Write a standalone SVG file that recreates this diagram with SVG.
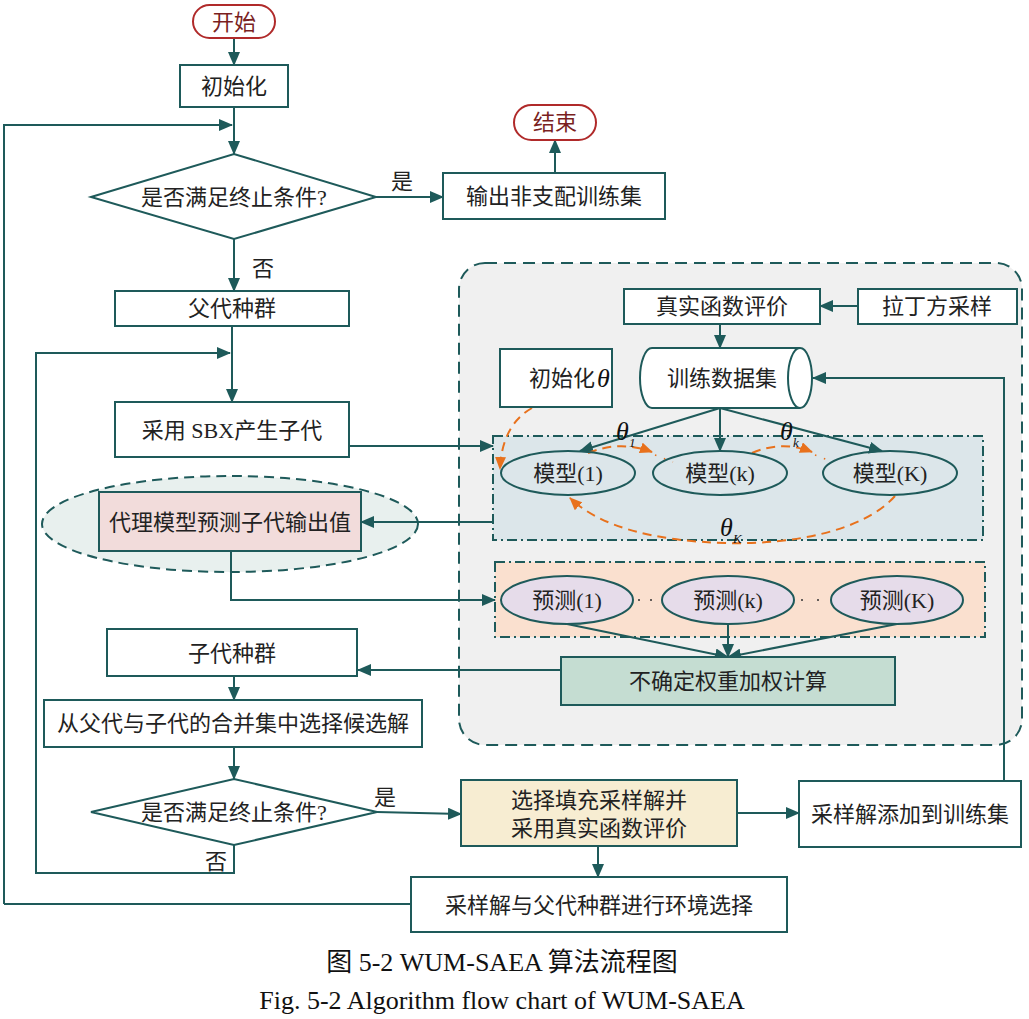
<svg xmlns="http://www.w3.org/2000/svg" width="1029" height="1019" viewBox="0 0 1029 1019">
<defs>
<marker id="ah" markerUnits="userSpaceOnUse" markerWidth="14" markerHeight="12" refX="13" refY="6" orient="auto">
<path d="M0,0 L14,6 L0,12 Z" fill="#1e5a5a"/>
</marker>
<marker id="oh" markerUnits="userSpaceOnUse" markerWidth="13" markerHeight="11" refX="12" refY="5.5" orient="auto">
<path d="M0,0 L13,5.5 L0,11 Z" fill="#e8711c"/>
</marker>
<style>
.bx{fill:#fff;stroke:#1e5a5a;stroke-width:2}
.ln{fill:none;stroke:#1e5a5a;stroke-width:2}
.ar{fill:none;stroke:#1e5a5a;stroke-width:2;marker-end:url(#ah)}
.or{fill:none;stroke:#e8711c;stroke-width:2;stroke-dasharray:9 6}
.od{fill:none;stroke:#e8711c;stroke-width:1.5;stroke-dasharray:1.5 8}
.tx{font-family:"Liberation Serif","Noto Sans CJK SC",serif;font-size:22px;fill:#222;text-anchor:middle;dominant-baseline:central}
.th{font-family:"Liberation Serif",serif;font-style:italic;font-size:26px;fill:#111}
.sb{font-family:"Liberation Serif",serif;font-style:italic;font-size:13px;fill:#111}
.cap{font-family:"Liberation Serif","Noto Sans CJK SC",serif;font-size:26px;fill:#111;text-anchor:middle;dominant-baseline:central}
</style>
</defs>
<rect width="1029" height="1019" fill="#fff"/>

<g id="surrogate-panel">
<rect x="459" y="263" width="563" height="482" rx="26" fill="#f0f0f0" stroke="#1e5a5a" stroke-width="2" stroke-dasharray="12 7"/>
</g>
<g id="models-region">
<rect x="493" y="436" width="490" height="104" fill="#dce6ea" stroke="#1e5a5a" stroke-width="2" stroke-dasharray="10 4 2 4"/>
</g>
<g id="predict-region">
<rect x="495" y="562" width="490" height="75" fill="#fae0cf" stroke="#1e5a5a" stroke-width="2" stroke-dasharray="10 4 2 4"/>
</g>
<g id="surrogate-ellipse">
<ellipse cx="230" cy="524" rx="188" ry="48" fill="#e8f0ee" stroke="#1e5a5a" stroke-width="2" stroke-dasharray="10 6"/>
</g>

<g id="connectors">
<path class="ar" d="M234,38 V65"/>
<path class="ln" d="M234,107 V125"/>
<path class="ar" d="M234,125 V154"/>
<path class="ar" d="M4,904 V125 H232"/>
<path class="ar" d="M376,197 H443"/>
<path class="ar" d="M555,173 V140"/>
<path class="ar" d="M234,239 V291"/>
<path class="ln" d="M232,326 V353"/>
<path class="ar" d="M232,353 V402"/>
<path class="ar" d="M234,845 V873 H36 V353 H230"/>
<path class="ar" d="M349,446 H493"/>
<path class="ar" d="M858,306 H820"/>
<path class="ar" d="M720,324 V348"/>
<path class="ar" d="M1004,781 V378 H813"/>
<path class="ar" d="M720,408 L580,451"/>
<path class="ar" d="M720,408 V451"/>
<path class="ar" d="M720,408 L882,451"/>
<path class="ar" d="M493,522 H361"/>
<path class="ar" d="M231,551 V600 H495"/>
<path class="ar" d="M567,624 L728,657"/>
<path class="ar" d="M728,624 V657"/>
<path class="ar" d="M897,624 L728,657"/>
<path class="ar" d="M561,670 H358"/>
<path class="ar" d="M234,676 V700"/>
<path class="ar" d="M234,747 V779"/>
<path class="ar" d="M377,812 L461,814"/>
<path class="ar" d="M737,813 H799"/>
<path class="ar" d="M598,846 V877"/>
<path class="ln" d="M411,904 H4"/>
<path class="or" marker-end="url(#oh)" d="M532,408 Q502,425 500,469"/>
<path class="or" marker-end="url(#oh)" d="M588,453 Q620,440 652,452"/>
<path class="od" d="M655,455 L673,462"/>
<path class="or" marker-end="url(#oh)" d="M752,453 Q782,440 812,452"/>
<path class="od" d="M815,455 L833,462"/>
<path class="or" marker-end="url(#oh)" d="M895,496 C865,530 795,545 725,543 C655,541 600,527 570,498"/>
</g>

<g id="start">
<rect x="193" y="5" width="82" height="33" rx="16.5" fill="#fff" stroke="#b02a2a" stroke-width="2"/>
<text class="tx" x="234" y="22" style="fill:#7a1f1f">开始</text>
</g>
<g id="init">
<rect class="bx" x="180" y="65" width="108" height="42"/>
<text class="tx" x="234" y="86">初始化</text>
</g>
<g id="cond1">
<polygon class="bx" points="91,197 234,154 376,197 234,239"/>
<text class="tx" x="234" y="197">是否满足终止条件?</text>
</g>
<g id="yes1"><text class="tx" x="402" y="181">是</text></g>
<g id="no1"><text class="tx" x="263" y="268">否</text></g>
<g id="output">
<rect class="bx" x="443" y="173" width="222" height="46"/>
<text class="tx" x="554" y="196">输出非支配训练集</text>
</g>
<g id="end">
<rect x="514" y="105" width="82" height="35" rx="17.5" fill="#fff" stroke="#b02a2a" stroke-width="2"/>
<text class="tx" x="555" y="122" style="fill:#7a1f1f">结束</text>
</g>
<g id="parents">
<rect class="bx" x="115" y="291" width="234" height="35"/>
<text class="tx" x="232" y="308">父代种群</text>
</g>
<g id="sbx">
<rect class="bx" x="115" y="402" width="234" height="55"/>
<text class="tx" x="232" y="430">采用 SBX产生子代</text>
</g>
<g id="real-eval">
<rect class="bx" x="624" y="289" width="196" height="35"/>
<text class="tx" x="722" y="306">真实函数评价</text>
</g>
<g id="lhs">
<rect class="bx" x="858" y="289" width="159" height="35"/>
<text class="tx" x="937" y="306">拉丁方采样</text>
</g>
<g id="init-theta">
<rect class="bx" x="500" y="349" width="112" height="58"/>
<text class="tx" x="595" y="378" style="text-anchor:end">初始化</text>
<text class="th" x="597" y="387">θ</text>
</g>
<g id="train-set">
<path d="M652,348 H800 A12,30 0 0 1 800,408 H652 A12,30 0 0 1 652,348 Z" fill="#fff" stroke="#1e5a5a" stroke-width="2"/>
<path class="ln" d="M800,348 A12,30 0 0 0 800,408"/>
<text class="tx" x="722" y="378">训练数据集</text>
</g>
<g id="model1">
<ellipse cx="568" cy="473" rx="67" ry="22" fill="none" stroke="#1e5a5a" stroke-width="2"/>
<text class="tx" x="568" y="473">模型(1)</text>
</g>
<g id="modelk">
<ellipse cx="720" cy="473" rx="67" ry="22" fill="none" stroke="#1e5a5a" stroke-width="2"/>
<text class="tx" x="720" y="473">模型(k)</text>
</g>
<g id="modelK">
<ellipse cx="890" cy="473" rx="67" ry="22" fill="none" stroke="#1e5a5a" stroke-width="2"/>
<text class="tx" x="890" y="473">模型(K)</text>
</g>
<g id="theta-labels">
<text class="th" x="616" y="440">θ</text><text class="sb" x="629" y="447">1</text>
<text class="th" x="780" y="440">θ</text><text class="sb" x="793" y="447">k</text>
<text class="th" x="720" y="536">θ</text><text class="sb" x="733" y="543">K</text>
</g>
<g id="surrogate-predict">
<rect x="99" y="492" width="262" height="59" fill="#f2dcdb" stroke="#1e5a5a" stroke-width="2"/>
<text class="tx" x="230" y="522">代理模型预测子代输出值</text>
</g>
<g id="pred1">
<ellipse cx="567" cy="600" rx="66" ry="24" fill="#e6dcea" stroke="#1e5a5a" stroke-width="2"/>
<text class="tx" x="567" y="600">预测(1)</text>
</g>
<g id="predk">
<ellipse cx="728" cy="600" rx="66" ry="24" fill="#e6dcea" stroke="#1e5a5a" stroke-width="2"/>
<text class="tx" x="728" y="600">预测(k)</text>
</g>
<g id="predK">
<ellipse cx="897" cy="600" rx="66" ry="24" fill="#e6dcea" stroke="#1e5a5a" stroke-width="2"/>
<text class="tx" x="897" y="600">预测(K)</text>
</g>
<g id="pred-dots">
<circle cx="639" cy="600" r="1" fill="#333"/><circle cx="651" cy="600" r="1" fill="#333"/>
<circle cx="802" cy="600" r="1" fill="#333"/><circle cx="818" cy="600" r="1" fill="#333"/>
</g>
<g id="weighted">
<rect x="561" y="657" width="334" height="48" fill="#c5ddd2" stroke="#1e5a5a" stroke-width="2"/>
<text class="tx" x="728" y="681">不确定权重加权计算</text>
</g>
<g id="offspring">
<rect class="bx" x="107" y="629" width="250" height="47"/>
<text class="tx" x="232" y="653">子代种群</text>
</g>
<g id="select-cand">
<rect class="bx" x="44" y="700" width="378" height="47"/>
<text class="tx" x="233" y="723">从父代与子代的合并集中选择候选解</text>
</g>
<g id="cond2">
<polygon class="bx" points="91,812 234,779 377,812 234,845"/>
<text class="tx" x="234" y="812">是否满足终止条件?</text>
</g>
<g id="yes2"><text class="tx" x="385" y="797">是</text></g>
<g id="no2"><text class="tx" x="216" y="861">否</text></g>
<g id="infill">
<rect x="461" y="780" width="276" height="66" fill="#f7edd2" stroke="#1e5a5a" stroke-width="2"/>
<text class="tx" x="599" y="800">选择填充采样解并</text>
<text class="tx" x="599" y="828">采用真实函数评价</text>
</g>
<g id="add-train">
<rect class="bx" x="799" y="781" width="222" height="66"/>
<text class="tx" x="910" y="814">采样解添加到训练集</text>
</g>
<g id="env-select">
<rect class="bx" x="411" y="877" width="376" height="55"/>
<text class="tx" x="599" y="905">采样解与父代种群进行环境选择</text>
</g>
<g id="caption">
<text class="cap" x="502" y="962">图 5-2 WUM-SAEA 算法流程图</text>
<text class="cap" x="502" y="1000">Fig. 5-2 Algorithm flow chart of WUM-SAEA</text>
</g>
</svg>
